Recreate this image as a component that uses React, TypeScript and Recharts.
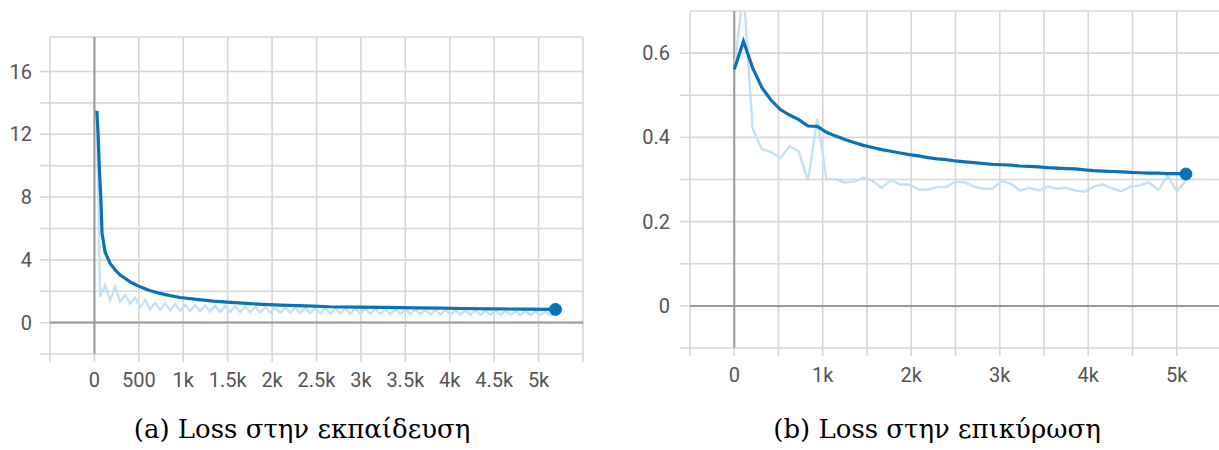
import React from 'react';
import { LineChart, Line, XAxis, YAxis, CartesianGrid, ReferenceLine } from 'recharts';

// training loss (left), smoothed curve
const trainSmoothSteps = [
  27, 41, 55, 73, 86, 120, 177, 235, 290, 350, 402, 460, 515, 620, 740, 850, 965,
  1150, 1340, 1530, 1716, 1900, 2091, 2280, 2467, 2654, 2950, 3270, 3600, 3900,
  4135, 4450, 4800, 5190,
];
const trainSmoothLoss = [
  13.5, 12.1, 9.9, 7.8, 5.7, 4.5, 3.77, 3.35, 3.03, 2.8, 2.6, 2.43, 2.28, 2.05, 1.86,
  1.72, 1.6, 1.48, 1.37, 1.29, 1.22, 1.16, 1.11, 1.08, 1.05, 1.01, 0.99, 0.97, 0.94,
  0.92, 0.9, 0.88, 0.86, 0.84,
];

// training loss (left), raw values
const trainRawSteps = [
  27, 64, 120, 177, 233, 289, 346, 402, 458, 515, 571, 627, 684, 740, 796, 853, 909,
  965, 1022, 1078, 1134, 1191, 1247, 1303, 1360, 1416, 1472, 1529, 1585, 1641, 1698,
  1754, 1810, 1867, 1923, 1979, 2036, 2092, 2148, 2205, 2261, 2317, 2374, 2430, 2486,
  2543, 2599, 2655, 2712, 2768, 2824, 2881, 2937, 2993, 3050, 3106, 3162, 3219, 3275,
  3331, 3388, 3444, 3500, 3557, 3613, 3669, 3726, 3782, 3838, 3895, 3951, 4007, 4064,
  4120, 4176, 4233, 4289, 4345, 4402, 4458, 4514, 4571, 4627, 4683, 4740, 4796, 4852,
  4909, 4965, 5021, 5078, 5134, 5190,
];
const trainRawLoss = [
  13.5, 1.64, 2.39, 1.43, 2.28, 1.33, 1.75, 1.22, 1.6, 0.97, 1.43, 0.84, 1.26, 0.8,
  1.22, 0.78, 1.17, 0.76, 1.15, 0.73, 1.12, 0.72, 1.1, 0.7, 1.08, 0.69, 1.05, 0.68,
  1.04, 0.67, 1.02, 0.66, 1.0, 0.65, 0.99, 0.64, 0.97, 0.63, 0.96, 0.62, 0.95, 0.61,
  0.94, 0.6, 0.93, 0.59, 0.92, 0.58, 0.91, 0.58, 0.9, 0.57, 0.89, 0.57, 0.88, 0.56,
  0.87, 0.56, 0.86, 0.55, 0.85, 0.55, 0.84, 0.54, 0.83, 0.54, 0.82, 0.53, 0.81, 0.53,
  0.8, 0.52, 0.79, 0.52, 0.78, 0.51, 0.77, 0.51, 0.76, 0.5, 0.75, 0.5, 0.74, 0.49,
  0.73, 0.49, 0.72, 0.48, 0.71, 0.48, 0.7, 0.47, 0.66,
];

// validation loss (right)
const valSteps = [
  0, 104, 208, 313, 417, 521, 625, 729, 833, 938, 1042, 1146, 1250, 1354, 1458, 1563,
  1667, 1771, 1875, 1979, 2083, 2188, 2292, 2396, 2500, 2604, 2708, 2813, 2917, 3021,
  3125, 3229, 3333, 3438, 3542, 3646, 3750, 3854, 3958, 4063, 4167, 4271, 4375, 4479,
  4583, 4688, 4792, 4896, 5000, 5104,
];
const valRawLoss = [
  0.561, 0.75, 0.42, 0.372, 0.365, 0.351, 0.379, 0.367, 0.297, 0.444, 0.301, 0.301,
  0.293, 0.295, 0.304, 0.297, 0.28, 0.299, 0.288, 0.288, 0.276, 0.276, 0.282, 0.282,
  0.295, 0.293, 0.283, 0.278, 0.278, 0.296, 0.29, 0.274, 0.28, 0.274, 0.283, 0.278,
  0.28, 0.274, 0.271, 0.283, 0.288, 0.279, 0.272, 0.283, 0.286, 0.293, 0.275, 0.309,
  0.272, 0.297,
];
const valSmoothLoss = [
  0.561, 0.628, 0.565, 0.518, 0.488, 0.466, 0.453, 0.442, 0.427, 0.426, 0.412, 0.403,
  0.395, 0.388, 0.381, 0.376, 0.371, 0.367, 0.363, 0.359, 0.356, 0.352, 0.349, 0.347,
  0.344, 0.342, 0.34, 0.338, 0.336, 0.335, 0.334, 0.332, 0.331, 0.33, 0.328, 0.327,
  0.326, 0.325, 0.323, 0.321, 0.32, 0.319, 0.318, 0.317, 0.316, 0.315, 0.315, 0.314,
  0.314, 0.313,
];

const stepTicks = [-500, 0, 500, 1000, 1500, 2000, 2500, 3000, 3500, 4000, 4500, 5000, 5500];
const trainTicks = [-2, 0, 2, 4, 6, 8, 10, 12, 14, 16];
const trainLabels = [0, 4, 8, 12, 16];
const valTicks = [-0.1, 0, 0.1, 0.2, 0.3, 0.4, 0.5, 0.6];
const valLabels = ['0', '0.2', '0.4', '0.6'];

const zip = (xs: number[], ys: number[]) => xs.map((step, i) => ({ step, v: ys[i] }));

const trainSmooth = zip(trainSmoothSteps, trainSmoothLoss);
const trainRaw = zip(trainRawSteps, trainRawLoss);
const valRaw = zip(valSteps, valRawLoss);
const valSmooth = zip(valSteps, valSmoothLoss);

const DARK = '#0a72b8';
const LIGHT = '#c4e0f1';
const GRID = '#d6d6d6';
const ZERO = '#9a9a9a';
const tickFont = { fontFamily: 'Roboto, sans-serif', fontSize: 20, fill: '#555' };

const fmtK = (v: number) => {
  if (v < 0 || v > 5000) return '';
  if (v < 1000) return String(v);
  return `${v / 1000}k`;
};

const endDot = (count: number) => (props: any) => {
  const { cx, cy, index } = props;
  if (index !== count - 1) return <g key={`d-${index}`} />;
  return <circle key={`d-${index}`} cx={cx} cy={cy} r={6} fill={DARK} stroke={DARK} />;
};

const captionStyle: React.CSSProperties = {
  position: 'absolute',
  top: 413,
  fontFamily: '"DejaVu Serif", serif',
  fontSize: 26,
  lineHeight: '32px',
  color: '#000',
  whiteSpace: 'nowrap',
  transform: 'translateX(-50%)',
};

export default function App() {
  return (
    <div style={{ position: 'absolute', left: 0, top: 0, width: 1219, height: 450, overflow: 'hidden', background: '#fff' }}>
      <div style={{ position: 'absolute', left: 0, top: 0 }}>
        <LineChart width={600} height={400} margin={{ top: 37, right: 17, bottom: 0, left: 0 }}>
          <CartesianGrid stroke={GRID} strokeWidth={1.6} />
          <XAxis
            dataKey="step"
            type="number"
            domain={[-500, 5500]}
            ticks={stepTicks}
            tickFormatter={fmtK}
            interval={0}
            height={46}
            axisLine={false}
            tickSize={8}
            tickMargin={11}
            tickLine={{ stroke: GRID, strokeWidth: 1.6 }}
            tick={tickFont}
          />
          <YAxis
            type="number"
            domain={[-2, 18.2]}
            ticks={trainTicks}
            tickFormatter={(v: number) => (trainLabels.includes(v) ? String(v) : '')}
            interval={0}
            width={50}
            axisLine={false}
            tickSize={10}
            tickMargin={8}
            tickLine={{ stroke: GRID, strokeWidth: 1.6 }}
            tick={tickFont}
            allowDataOverflow
          />
          <ReferenceLine x={0} stroke={ZERO} strokeWidth={2} />
          <ReferenceLine y={0} stroke={ZERO} strokeWidth={2} />
          <Line data={trainRaw} dataKey="v" type="linear" stroke={LIGHT} strokeWidth={2.4} dot={false} isAnimationActive={false} />
          <Line data={trainSmooth} dataKey="v" type="linear" stroke={DARK} strokeWidth={3.2} dot={endDot(trainSmooth.length)} isAnimationActive={false} />
        </LineChart>
      </div>
      <div style={{ position: 'absolute', left: 620, top: 0 }}>
        <LineChart width={601} height={400} margin={{ top: 11, right: 0, bottom: 0, left: 0 }}>
          <CartesianGrid stroke={GRID} strokeWidth={1.6} />
          <XAxis
            dataKey="step"
            type="number"
            domain={[-500, 5500]}
            ticks={stepTicks}
            tickFormatter={(v: number) => (v >= 0 && v <= 5000 && v % 1000 === 0 ? fmtK(v) : '')}
            interval={0}
            height={52}
            axisLine={false}
            tickSize={8}
            tickMargin={12}
            tickLine={{ stroke: GRID, strokeWidth: 1.6 }}
            tick={tickFont}
          />
          <YAxis
            type="number"
            domain={[-0.1, 0.7]}
            ticks={valTicks}
            tickFormatter={(v: number) => {
              const s = v === 0 ? '0' : v.toFixed(1);
              return valLabels.includes(s) ? s : '';
            }}
            interval={0}
            width={70}
            axisLine={false}
            tickSize={10}
            tickMargin={10}
            tickLine={{ stroke: GRID, strokeWidth: 1.6 }}
            tick={tickFont}
            allowDataOverflow
          />
          <ReferenceLine x={0} stroke={ZERO} strokeWidth={2} />
          <ReferenceLine y={0} stroke={ZERO} strokeWidth={2} />
          <Line data={valRaw} dataKey="v" type="linear" stroke={LIGHT} strokeWidth={2.4} dot={false} isAnimationActive={false} />
          <Line data={valSmooth} dataKey="v" type="linear" stroke={DARK} strokeWidth={3.2} dot={endDot(valSmooth.length)} isAnimationActive={false} />
        </LineChart>
      </div>
      <div style={{ ...captionStyle, left: 302 }}>(a) Loss στην εκπαίδευση</div>
      <div style={{ ...captionStyle, left: 937 }}>(b) Loss στην επικύρωση</div>
    </div>
  );
}
